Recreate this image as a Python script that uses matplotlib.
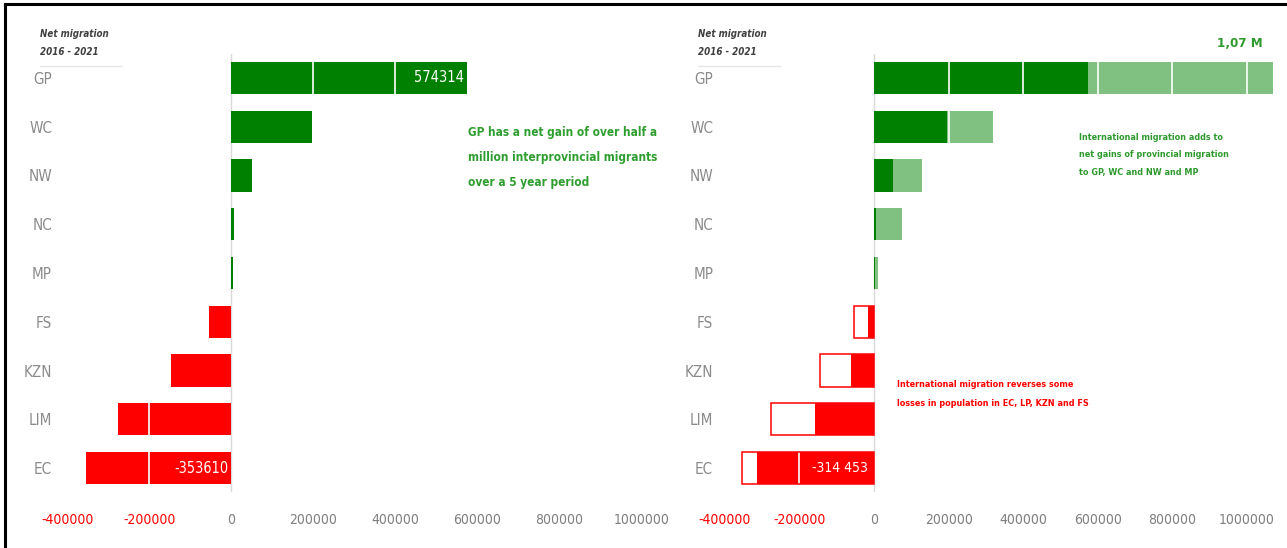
import matplotlib
matplotlib.use('Agg')
import matplotlib.pyplot as plt
from matplotlib import font_manager
from matplotlib.lines import Line2D

# pick a narrow face if there is one
fonts = font_manager.fontManager.ttflist
names = set(f.name for f in fonts)
STRETCH = 'normal'
SCALE = 0.88
if 'Liberation Sans Narrow' in names:
    FONT, SCALE = 'Liberation Sans Narrow', 1.0
elif any(f.name == 'DejaVu Sans' and f.stretch in ('condensed', 'semi-condensed') for f in fonts):
    FONT, STRETCH, SCALE = 'DejaVu Sans', 'condensed', 0.95
elif 'Open Sans' in names:
    FONT = 'Open Sans'
else:
    FONT = 'DejaVu Sans'
plt.rcParams['font.family'] = [FONT, 'DejaVu Sans']
plt.rcParams['font.stretch'] = STRETCH


def fs(x):
    return x * SCALE


provinces = ['GP', 'WC', 'NW', 'NC', 'MP', 'FS', 'KZN', 'LIM', 'EC']
interprovincial = [574314, 196000, 51000, 6000, 3000, -54000, -146000, -275000, -353610]
with_international = [1070000, 318000, 130000, 76000, 10000, -16000, -62000, -157000, -314453]
xticks = [-400000, -200000, 0, 200000, 400000, 600000, 800000, 1000000]

DARK = '#008000'
LIGHT = '#80c080'
RED = '#ff0000'
GRAY = '#7f7f7f'

fig = plt.figure(figsize=(12.87, 5.48), dpi=100)
W, H = 1287, 548

ax1 = fig.add_axes([59 / W, 1 - 492.4 / H, 603 / W, 438.8 / H])
ax2 = fig.add_axes([717.3 / W, 1 - 492.4 / H, 567 / W, 438.8 / H])
ax1.set_xlim(-420000, 1050000)
ax2.set_xlim(-420000, 1100000)

ypos = list(range(len(provinces)))
bh = 0.66

# left: interprovincial only
cols = [DARK if v > 0 else RED for v in interprovincial]
ax1.barh(ypos, interprovincial, height=bh, color=cols, zorder=2)

# right: interprovincial plus international
for i, (a, b) in enumerate(zip(interprovincial, with_international)):
    if a > 0:
        ax2.barh(i, a, height=bh, color=DARK, zorder=2)
        ax2.barh(i, b - a, left=a, height=bh, color=LIGHT, zorder=2)
    else:
        ax2.barh(i, a, height=bh, facecolor='white', edgecolor='none', zorder=2)
        ax2.barh(i, b, height=bh, color=RED, zorder=2.5)
        ax2.barh(i, a, height=bh, facecolor='none', edgecolor=RED, lw=1.1, zorder=3.5)

for ax in (ax1, ax2):
    ax.set_ylim(8.5, -0.5)
    ax.set_yticks(ypos)
    ax.set_yticklabels(provinces, color='#8a8a8a', fontsize=fs(11.5))
    ax.set_xticks(xticks)
    ax.set_xticklabels([str(t) for t in xticks], fontsize=fs(10.5))
    for lab, t in zip(ax.get_xticklabels(), xticks):
        lab.set_color(RED if t < 0 else GRAY)
    ax.tick_params(axis='x', length=0, pad=15)
    ax.tick_params(axis='y', length=0)
    for s in ax.spines.values():
        s.set_visible(False)
    ax.axvline(0, color='#d9d9d9', lw=1, zorder=1)
    for t in xticks:
        if t != 0:
            ax.axvline(t, color='white', lw=1.2, zorder=3)

ax1.tick_params(axis='y', pad=5)
ax2.tick_params(axis='y', pad=3)

# value labels
ax1.text(interprovincial[0] - 8000, 0, str(interprovincial[0]), color='white',
         fontsize=fs(11), ha='right', va='center', zorder=4)
ax1.text(-7000, 8, str(interprovincial[8]), color='white',
         fontsize=fs(11), ha='right', va='center', zorder=4)
ax2.text(-16000, 8, '{:,}'.format(with_international[8]).replace(',', ' '),
         color='white', fontsize=fs(10.5), ha='right', va='center', zorder=4)
ax2.text(with_international[0] - 27000, -0.7, '1,07 M', color='#2e9a2e', fontsize=fs(10),
         fontweight='bold', ha='right', va='center')

# notes
ax1.text(0.678, 0.834, 'GP has a net gain of over half a\nmillion interprovincial migrants\nover a 5 year period',
         transform=ax1.transAxes, color='#2e9e2e', fontsize=fs(8.9), fontweight='bold',
         va='top', ha='left', linespacing=2.2)
ax2.text(0.638, 0.82, 'International migration adds to\nnet gains of provincial migration\nto GP, WC and NW and MP',
         transform=ax2.transAxes, color='#2e9a2e', fontsize=fs(6.8), fontweight='bold',
         va='top', ha='left', linespacing=2.25)
ax2.text(0.317, 0.257, 'International migration reverses some\nlosses in population in EC, LP, KZN and FS',
         transform=ax2.transAxes, color=RED, fontsize=fs(6.8), fontweight='bold',
         va='top', ha='left', linespacing=2.45)

# headers
for x0 in (40, 698):
    fig.text(x0 / W, 1 - 29 / H, 'Net migration\n2016 - 2021', fontsize=fs(7.4), style='italic',
             fontweight='bold', color='#404040', va='top', ha='left', linespacing=2.0)
    fig.add_artist(Line2D([x0 / W, (x0 + 82) / W], [1 - 66 / H, 1 - 66 / H],
                          color='#e6e6e6', lw=1))

# frame on top and left
fig.add_artist(Line2D([5 / W, 1], [1 - 3.5 / H, 1 - 3.5 / H], color='black', lw=2.2))
fig.add_artist(Line2D([5 / W, 5 / W], [0, 1 - 3.5 / H], color='black', lw=2.2))

fig.savefig('out.png', dpi=100, facecolor='white')
